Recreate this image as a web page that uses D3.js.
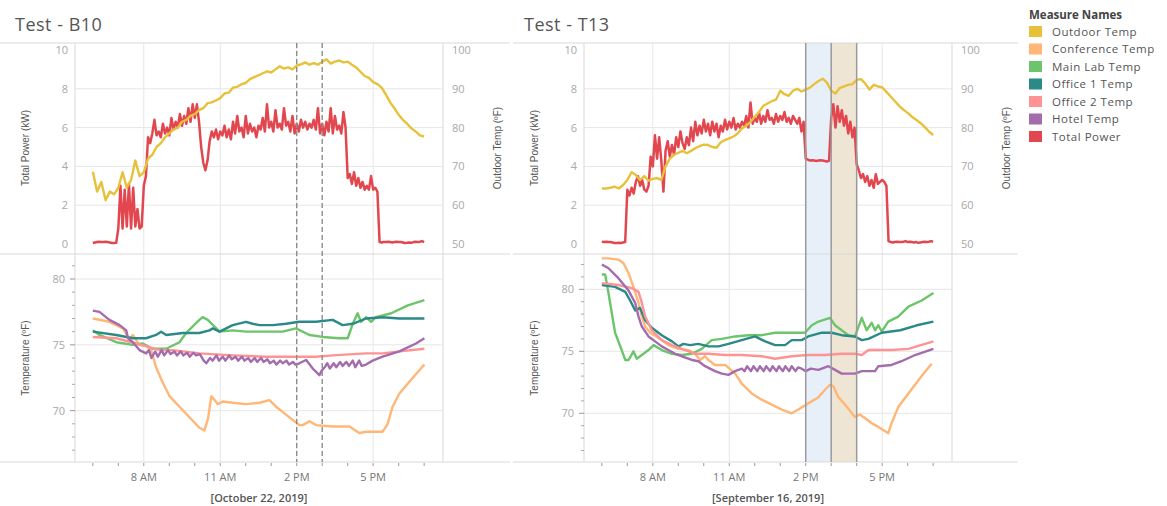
<!DOCTYPE html>
<html><head><meta charset="utf-8">
<script src="https://cdn.jsdelivr.net/npm/d3@7"></script>
<style>
body{margin:0;background:#fff;}
svg{display:block;font-family:"Open Sans",sans-serif;}
</style>
</head><body>
<svg id="chart" width="1167" height="506"></svg>
<script>
// ---------- labels / ticks ----------
const panelTitles = ["Test - B10", "Test - T13"];
const panelDates = ["[October 22, 2019]", "[September 16, 2019]"];
const hourTicks = [8, 11, 14, 17];
const hourTickLabels = ["8 AM", "11 AM", "2 PM", "5 PM"];
const minorHourTicks = [6, 7, 8, 9, 10, 11, 12, 13, 14, 15, 16, 17, 18, 19];
const powerTicks = [0, 2, 4, 6, 8, 10];
const outdoorTicks = [50, 60, 70, 80, 90, 100];
const tempTicks = [70, 75, 80];
const tempMinorTicksB10 = [67, 68, 69, 71, 72, 73, 74, 76, 77, 78, 79, 81];
const tempMinorTicksT13 = [67, 68, 69, 71, 72, 73, 74, 76, 77, 78, 79, 81, 82];
const measureNames = ["Outdoor Temp", "Conference Temp", "Main Lab Temp", "Office 1 Temp", "Office 2 Temp", "Hotel Temp", "Total Power"];
const measureColors = ["#E8C13B", "#FFB677", "#6CC56A", "#2B8A87", "#FF9393", "#A56CAD", "#E2474F"];
const b10Markers = [14, 15];          // dashed lines (hours)
const t13Bands = [[14, 15], [15, 16]]; // shaded bands (hours)

// ---------- sampled series (regular steps from 6 AM) ----------
const seriesStartHour = 6;
const powerStepHours = 5 / 60;
const outdoorStepHours = 10 / 60;

const b10Power = [0.05,0.08,0.1,0.12,0.1,0.1,0.12,0.1,0.08,0.05,0.05,0.06,
 0.8,3.0,0.8,2.8,0.9,3.1,0.8,2.9,0.9,1.8,0.8,0.9,
 3.0,3.5,5.5,5.2,5.7,6.4,5.6,5.8,5.5,6.2,5.7,6.0,
 5.6,6.5,5.9,6.3,6.0,6.7,6.1,6.6,6.2,7.0,6.3,7.2,
 6.5,7.2,6.3,5.0,4.2,3.8,4.3,5.3,5.8,5.5,5.9,5.4,
 5.8,5.6,6.1,5.5,5.9,5.4,6.3,5.7,6.6,5.8,6.0,5.5,
 6.6,5.7,6.2,5.8,6.0,5.5,6.1,5.9,6.5,5.8,7.2,6.0,
 6.3,5.8,6.9,6.0,6.2,5.9,7.0,6.1,6.3,5.8,6.6,5.7,
 6.2,5.8,6.4,6.0,6.3,5.9,6.2,6.0,6.4,5.9,7.0,5.7,
 6.2,5.6,6.3,5.8,7.0,5.7,6.6,5.9,6.1,5.7,6.8,6.0,
 3.4,3.6,3.1,3.7,3.0,3.4,2.9,3.2,2.8,3.0,2.8,3.5,
 2.8,2.9,2.7,0.1,0.08,0.1,0.1,0.12,0.1,0.08,0.1,0.12,
 0.1,0.1,0.08,0.05,0.06,0.08,0.06,0.1,0.12,0.1,0.12,0.15,0.1];

const t13Power = [0.12,0.1,0.12,0.1,0.1,0.08,0.05,0.05,0.06,0.05,0.08,0.1,
 2.8,2.5,2.9,2.6,3.2,3.5,3.0,3.3,2.8,2.7,3.0,4.5,
 4.0,5.6,4.4,5.5,4.3,2.7,4.8,5.3,4.5,5.1,4.6,5.5,
 5.0,5.8,5.2,4.9,5.5,5.1,6.0,5.3,6.3,5.6,6.1,5.7,
 6.4,5.8,6.2,5.6,6.3,5.8,6.2,5.5,6.1,5.8,6.4,5.9,
 6.3,6.0,6.5,5.9,6.2,6.0,6.3,6.1,6.6,6.0,7.3,6.2,
 6.5,6.3,6.8,6.2,6.6,6.3,6.9,6.4,6.5,6.2,6.7,6.3,
 6.6,6.4,6.8,6.3,6.5,6.2,6.6,6.4,6.2,6.5,5.8,6.3,
 4.4,4.35,4.3,4.32,4.3,4.28,4.3,4.32,4.3,4.28,4.25,4.3,
 6.5,7.2,6.0,7.1,6.3,6.9,6.1,6.6,5.7,6.3,5.5,6.0,
 4.1,3.8,3.4,3.6,3.2,3.5,3.0,3.3,2.9,3.6,3.1,3.2,
 3.3,3.2,3.0,0.15,0.1,0.08,0.1,0.12,0.1,0.1,0.12,0.15,
 0.1,0.12,0.1,0.08,0.1,0.06,0.08,0.1,0.12,0.1,0.12,0.15,0.12];

const b10Outdoor = [68.6,63.5,66,61.3,63.5,62.8,64.5,68.5,64.5,66.5,71.5,67.5,
 68.5,72,73,75,76,77.5,78.5,79.5,80,81.5,82,83,
 83.5,84.5,85,86.3,86.5,87,87.6,88.8,89,90.3,90.5,91.2,
 91.5,92.5,93,93.5,94,94.5,94.2,95,95.8,95.2,95.5,95,
 96,96.3,96.8,96.2,96.6,96.2,97,97.6,96.5,97,97.3,96.8,
 97,96.2,95.5,94.4,93.3,92.8,91.7,91.2,90.3,88.5,86.5,85,
 83.3,82,81,79.8,79,78,77.7];

const t13Outdoor = [64.3,64.3,64.5,64.8,64.3,65.2,66.5,68.5,67.8,66.5,67.5,66.3,
 66.8,67,66.5,70,72,73,73.5,74,73.4,74,74.7,75.2,
 75.6,75.5,75,74.8,76.2,76.8,77.2,77.7,78.5,79.8,80.5,81.5,
 82.8,84,85.6,86.2,86.8,87.2,89.5,88.6,88.2,89.5,90,89.3,
 89.8,90.3,91.2,92,92.6,91.6,89.5,88.8,90.2,90.6,91,91.2,
 92.3,92.5,91.4,89.8,91,90.6,90.4,89.2,88,86.8,85.6,84.6,
 83.8,82.8,82,81.2,80.2,79,78.1];

// ---------- indoor temperatures: [hour, °F] ----------
const b10Conference = [[6.00,77.0],[6.65,76.75],[7.18,76.25],[7.44,75.4],[7.57,75.75],[7.83,75.0],[8.09,74.9],[8.29,74.6],[8.48,73.3],[8.75,72.1],[9.01,71.1],[9.40,70.3],[9.79,69.5],[10.18,68.7],[10.38,68.5],[10.52,69.4],[10.65,71.1],[10.78,70.8],[10.90,70.5],[11.10,70.7],[11.49,70.6],[12.01,70.5],[12.54,70.6],[12.93,70.8],[13.19,70.3],[13.58,69.7],[13.84,69.3],[14.10,68.9],[14.24,68.9],[14.50,69.2],[14.76,68.9],[15.41,68.8],[16.07,68.8],[16.30,68.5],[16.46,68.3],[16.72,68.4],[17.37,68.4],[17.57,69.0],[17.76,70.3],[18.03,71.3],[18.42,72.2],[19.01,73.5]];
const b10MainLab = [[6.00,76.1],[6.26,75.75],[6.92,75.2],[7.57,75.0],[7.96,75.1],[8.35,74.7],[8.88,74.7],[9.40,75.2],[9.66,75.9],[10.18,76.9],[10.31,77.1],[10.51,76.9],[10.97,76.0],[11.49,76.1],[12.01,76.0],[12.80,76.0],[13.45,76.0],[13.97,76.25],[14.50,75.75],[15.02,75.6],[15.67,75.5],[16.00,75.5],[16.20,76.6],[16.39,77.4],[16.52,76.75],[16.72,77.1],[16.92,76.75],[17.11,77.1],[17.71,77.4],[18.36,78.0],[19.01,78.4]];
const b10Office1 = [[6.00,76.0],[6.92,75.75],[7.57,75.5],[8.09,75.5],[8.48,75.75],[8.68,76.0],[8.88,75.75],[9.53,75.9],[10.18,75.9],[10.58,76.1],[10.71,76.25],[10.97,76.0],[11.49,76.5],[12.01,76.75],[12.27,76.6],[12.54,76.5],[13.06,76.5],[13.58,76.6],[14.10,76.75],[14.76,76.75],[15.41,76.9],[15.80,76.5],[16.20,76.6],[16.72,77.0],[17.37,77.1],[18.03,77.0],[19.01,77.0]];
const b10Office2 = [[6.00,75.6],[6.92,75.5],[7.70,75.1],[8.09,74.9],[8.61,74.6],[9.14,74.6],[10.18,74.35],[11.49,74.2],[12.80,74.1],[14.10,74.1],[14.76,74.1],[15.41,74.2],[16.72,74.35],[17.37,74.35],[18.03,74.5],[19.01,74.7]];
const b10Hotel = [[6.00,77.6],[6.26,77.5],[6.65,76.9],[7.05,76.5],[7.31,76.1],[7.38,75.5],[7.57,75.2],[7.83,74.6],[8.09,74.35],[8.2,74.6],[8.3,74.0],[8.45,74.5],[8.55,74.1],[8.7,74.6],[8.8,74.2],[8.95,74.6],[9.05,74.3],[9.2,74.5],[9.3,74.2],[9.45,74.5],[9.55,74.2],[9.7,74.4],[9.8,74.1],[9.95,74.4],[10.05,74.2],[10.2,74.3],[10.35,73.8],[10.45,73.6],[10.6,74.0],[10.7,73.8],[10.85,74.2],[10.95,73.8],[11.1,74.1],[11.2,73.8],[11.35,74.2],[11.45,73.9],[11.6,74.1],[11.7,73.8],[11.85,74.1],[11.95,73.8],[12.1,74.0],[12.2,73.7],[12.35,74.0],[12.45,73.7],[12.6,74.0],[12.7,73.7],[12.85,73.9],[12.95,73.6],[13.1,73.8],[13.2,73.5],[13.35,73.8],[13.45,73.6],[13.6,73.8],[13.7,73.5],[13.85,73.7],[13.95,73.5],[14.1,73.6],[14.37,73.85],[14.63,73.2],[14.89,72.7],[15.0,73.1],[15.1,73.3],[15.2,73.6],[15.3,73.2],[15.45,73.6],[15.55,73.3],[15.7,73.7],[15.8,73.4],[15.95,73.7],[16.05,73.4],[16.2,73.8],[16.3,73.3],[16.45,73.8],[16.55,73.4],[16.72,73.5],[16.98,73.8],[17.37,74.1],[18.03,74.5],[18.68,75.1],[19.01,75.5]];

const t13Conference = [[6.00,82.5],[6.26,82.5],[6.65,82.4],[6.85,82.1],[7.05,81.3],[7.24,80.2],[7.44,78.9],[7.57,77.8],[7.70,77.0],[7.90,76.5],[8.22,76.1],[8.61,75.5],[9.01,75.2],[9.40,75.1],[9.66,74.8],[9.86,74.3],[10.05,74.6],[10.18,74.3],[10.44,73.9],[10.84,73.9],[11.23,73.2],[11.49,72.4],[11.88,71.6],[12.27,71.1],[12.67,70.7],[13.06,70.3],[13.45,70.0],[13.71,70.3],[14.10,70.8],[14.50,71.3],[14.76,71.9],[14.95,72.3],[15.08,72.2],[15.28,71.3],[15.54,70.7],[15.93,69.7],[16.13,69.9],[16.33,69.6],[16.59,69.2],[16.85,68.9],[17.24,68.4],[17.37,69.2],[17.63,70.5],[18.03,71.6],[18.55,73.0],[18.94,74.0]];
const t13MainLab = [[6.00,81.2],[6.13,81.2],[6.26,79.7],[6.52,76.5],[6.78,75.1],[6.92,74.3],[7.05,74.3],[7.24,75.0],[7.37,74.4],[7.57,74.7],[7.83,75.1],[8.03,75.5],[8.35,75.1],[8.75,74.8],[9.14,74.7],[9.53,74.8],[9.92,75.2],[10.31,75.9],[10.71,76.0],[11.23,76.2],[11.75,76.3],[12.27,76.3],[12.80,76.5],[13.45,76.5],[13.97,76.5],[14.24,77.1],[14.50,77.4],[14.95,77.7],[15.15,77.1],[15.41,76.7],[15.67,76.3],[15.93,76.2],[16.20,77.7],[16.39,76.7],[16.59,77.3],[16.72,76.7],[16.85,77.1],[16.98,76.6],[17.24,77.4],[17.63,77.8],[18.03,78.6],[18.55,79.1],[19.01,79.7]];
const t13Office1 = [[6.00,80.35],[6.52,80.2],[6.92,79.8],[7.11,79.1],[7.31,78.3],[7.50,78.5],[7.70,77.5],[7.96,76.9],[8.35,76.3],[8.75,75.8],[9.01,75.4],[9.20,75.6],[9.46,75.5],[9.79,75.6],[10.18,75.4],[10.58,75.4],[10.97,75.6],[11.49,75.9],[12.01,76.2],[12.41,75.8],[12.80,75.5],[13.19,75.5],[13.45,75.9],[13.84,75.9],[14.10,76.2],[14.63,76.5],[15.02,76.5],[15.41,76.3],[15.93,76.2],[16.20,75.9],[16.46,76.0],[16.98,76.5],[17.71,76.7],[18.36,77.1],[19.01,77.4]];
const t13Office2 = [[6.00,80.5],[6.65,80.35],[7.18,80.1],[7.44,79.8],[7.57,78.9],[7.70,77.8],[7.96,76.7],[8.35,75.9],[8.75,75.5],[9.14,75.2],[9.66,74.8],[10.18,74.8],[10.84,74.7],[11.49,74.7],[12.27,74.6],[12.80,74.4],[13.45,74.6],[14.10,74.7],[14.76,74.7],[15.41,74.8],[15.93,74.8],[16.20,74.7],[16.46,75.1],[17.37,75.1],[18.03,75.2],[19.01,75.8]];
const t13Hotel = [[6.00,82.0],[6.26,81.7],[6.65,80.9],[7.05,79.9],[7.31,78.9],[7.44,77.8],[7.57,77.0],[7.83,76.2],[8.09,75.8],[8.35,75.4],[8.61,75.1],[8.88,74.8],[9.14,74.6],[9.53,74.3],[9.79,74.2],[10.05,73.8],[10.44,73.4],[10.71,73.2],[10.97,73.1],[11.23,73.4],[11.49,73.6],[11.6,73.4],[11.7,73.8],[11.85,73.4],[11.95,73.8],[12.1,73.4],[12.2,73.8],[12.35,73.4],[12.45,73.8],[12.6,73.4],[12.7,73.8],[12.85,73.4],[12.95,73.8],[13.1,73.4],[13.2,73.8],[13.35,73.4],[13.45,73.8],[13.6,73.4],[13.7,73.7],[13.84,73.6],[14.0,73.4],[14.2,73.6],[14.5,73.5],[14.89,73.8],[15.15,73.5],[15.41,73.2],[15.93,73.2],[16.20,73.4],[16.72,73.4],[16.85,73.8],[17.37,73.9],[17.76,74.2],[18.29,74.7],[19.01,75.2]];

// ---------- drawing ----------
const svg = d3.select("#chart");
const TOP = 43, MID = 254, BOT = 462;
const GRID = "#e6e6e6", FRAME = "#d9d9d9", TICKC = "#a8a8a8", LABC = "#555";

function drawPanel(p) {
  const ox = p.ox;
  const g = svg.append("g");
  const L = ox + 75, R = ox + 443;
  const x = d3.scaleLinear().domain([5.3, 19.74]).range([L, R]);
  const yP = d3.scaleLinear().domain([0, 10]).range([244, 50]);
  const yO = d3.scaleLinear().domain([50, 100]).range([244, 50]);
  const yT = d3.scaleLinear().domain(p.tempDomain).range([BOT, MID]);

  const cid = "c" + p.key;
  const defs = svg.append("defs");
  defs.append("clipPath").attr("id", cid + "t").append("rect").attr("x", L).attr("y", TOP).attr("width", R - L).attr("height", MID - TOP);
  defs.append("clipPath").attr("id", cid + "b").append("rect").attr("x", L).attr("y", MID).attr("width", R - L).attr("height", BOT - MID);

  // grid
  g.selectAll(".vg").data(hourTicks).join("line")
    .attr("x1", d => x(d)).attr("x2", d => x(d)).attr("y1", TOP).attr("y2", BOT)
    .attr("stroke", GRID).attr("stroke-width", 1);
  g.selectAll(".hgp").data(powerTicks.filter(d => d > 0 && d < 10)).join("line")
    .attr("x1", L).attr("x2", R).attr("y1", d => yP(d)).attr("y2", d => yP(d))
    .attr("stroke", GRID);
  g.selectAll(".hgt").data(tempTicks).join("line")
    .attr("x1", L).attr("x2", R).attr("y1", d => yT(d)).attr("y2", d => yT(d))
    .attr("stroke", GRID);

  // bands
  if (p.bands) {
    const bandFill = ["#e7f0f8", "#efe5d4"];
    g.selectAll(".band").data(p.bands).join("rect")
      .attr("x", d => x(d[0])).attr("width", d => x(d[1]) - x(d[0]))
      .attr("y", TOP).attr("height", BOT - TOP)
      .attr("fill", (d, i) => bandFill[i]);
  }

  // frame lines
  [TOP, MID, BOT].forEach(yy => g.append("line").attr("x1", p.lineX[0]).attr("x2", p.lineX[1])
    .attr("y1", yy).attr("y2", yy).attr("stroke", FRAME));
  [L, R].forEach(xx => g.append("line").attr("x1", xx).attr("x2", xx).attr("y1", TOP).attr("y2", BOT).attr("stroke", FRAME));

  // top lines
  const top = g.append("g").attr("clip-path", `url(#${cid}t)`);
  const pLine = d3.line().x((d, i) => x(seriesStartHour + i * powerStepHours)).y(d => yP(d));
  const oLine = d3.line().x((d, i) => x(seriesStartHour + i * outdoorStepHours)).y(d => yO(d));
  top.append("path").attr("d", pLine(p.power)).attr("fill", "none").attr("stroke", measureColors[6]).attr("stroke-width", 2.5).attr("stroke-linejoin", "round");
  top.append("path").attr("d", oLine(p.outdoor)).attr("fill", "none").attr("stroke", measureColors[0]).attr("stroke-width", 2.4).attr("stroke-linejoin", "round");

  // bottom lines
  const bot = g.append("g").attr("clip-path", `url(#${cid}b)`);
  const tLine = d3.line().x(d => x(d[0])).y(d => yT(d[1]));
  p.temps.forEach((s, i) => {
    bot.append("path").attr("d", tLine(s)).attr("fill", "none").attr("stroke", measureColors[i + 1])
      .attr("stroke-width", 2.4).attr("stroke-linejoin", "round");
  });

  // marker lines
  if (p.markers) {
    g.selectAll(".mk").data(p.markers).join("line")
      .attr("x1", d => x(d)).attr("x2", d => x(d)).attr("y1", TOP).attr("y2", BOT)
      .attr("stroke", "#8c8c8c").attr("stroke-width", 1.4).attr("stroke-dasharray", "5,3");
  }
  if (p.bands) {
    const edges = [p.bands[0][0], p.bands[0][1], p.bands[1][1]];
    g.selectAll(".be").data(edges).join("line")
      .attr("x1", d => x(d)).attr("x2", d => x(d)).attr("y1", TOP).attr("y2", BOT)
      .attr("stroke", "#9a9a9a").attr("stroke-width", 1.5);
  }

  // axes labels
  g.selectAll(".pl").data(powerTicks).join("text")
    .attr("x", L - 7).attr("y", d => yP(d) + 4).attr("text-anchor", "end")
    .attr("font-size", 11).attr("fill", TICKC).text(d => d);
  g.selectAll(".ol").data(outdoorTicks).join("text")
    .attr("x", R + 9).attr("y", d => yO(d) + 4).attr("text-anchor", "start")
    .attr("font-size", 11).attr("fill", TICKC).text(d => d);
  g.selectAll(".tl").data(tempTicks).join("text")
    .attr("x", L - 10).attr("y", d => yT(d) + 4).attr("text-anchor", "end")
    .attr("font-size", 11).attr("fill", TICKC).text(d => d);
  g.selectAll(".tmaj").data(tempTicks).join("line")
    .attr("x1", L - 5).attr("x2", L).attr("y1", d => yT(d)).attr("y2", d => yT(d)).attr("stroke", "#999");
  g.selectAll(".tmin").data(p.tempMinor).join("line")
    .attr("x1", L - 3).attr("x2", L).attr("y1", d => yT(d)).attr("y2", d => yT(d)).attr("stroke", "#aaa");
  g.selectAll(".xmin").data(minorHourTicks).join("line")
    .attr("x1", d => x(d)).attr("x2", d => x(d)).attr("y1", BOT + 1).attr("y2", BOT + 4).attr("stroke", "#999");
  g.selectAll(".xl").data(hourTicks).join("text")
    .attr("x", d => x(d)).attr("y", 481).attr("text-anchor", "middle")
    .attr("font-size", 11).attr("fill", "#777").text((d, i) => hourTickLabels[i]);
  g.append("text").attr("x", (L + R) / 2).attr("y", 502).attr("text-anchor", "middle")
    .attr("font-size", 11).attr("font-weight", 600).attr("fill", LABC).text(p.date);

  const at = (tx, ty, t) => g.append("text").attr("transform", `translate(${tx},${ty}) rotate(-90)`)
    .attr("text-anchor", "middle").attr("font-size", 10).attr("fill", LABC)
    .attr("font-family", "Liberation Sans, Arial, sans-serif").text(t);
  at(ox + 29, 148, "Total Power (kW)");
  at(ox + 501, 148, "Outdoor Temp (ºF)");
  at(ox + 29, 358, "Temperature (ºF)");

  g.append("text").attr("x", ox + 15).attr("y", 31).attr("font-size", 18).attr("fill", "#555")
    .attr("letter-spacing", 0.5).text(p.title);
}

drawPanel({key: "b10", ox: 0, lineX: [0, 510], title: panelTitles[0], date: panelDates[0],
  power: b10Power, outdoor: b10Outdoor,
  temps: [b10Conference, b10MainLab, b10Office1, b10Office2, b10Hotel],
  tempDomain: [66.1, 81.9], tempMinor: tempMinorTicksB10, markers: b10Markers});
drawPanel({key: "t13", ox: 509, lineX: [513, 1018], title: panelTitles[1], date: panelDates[1],
  power: t13Power, outdoor: t13Outdoor,
  temps: [t13Conference, t13MainLab, t13Office1, t13Office2, t13Hotel],
  tempDomain: [66.07, 82.85], tempMinor: tempMinorTicksT13, bands: t13Bands});

// legend
const lg = svg.append("g");
lg.append("text").attr("x", 1029).attr("y", 19).attr("font-size", 11.5).attr("font-weight", 700)
  .attr("fill", "#444").text("Measure Names");
const rows = lg.selectAll(".lr").data(measureNames).join("g")
  .attr("transform", (d, i) => `translate(0,${26 + i * 17.5})`);
rows.append("rect").attr("x", 1029).attr("y", 0).attr("width", 13).attr("height", 11)
  .attr("fill", (d, i) => measureColors[i]);
rows.append("text").attr("x", 1052).attr("y", 9.5).attr("font-size", 11.5).attr("fill", "#555")
  .attr("letter-spacing", 0.5).text(d => d);
</script>
</body></html>
